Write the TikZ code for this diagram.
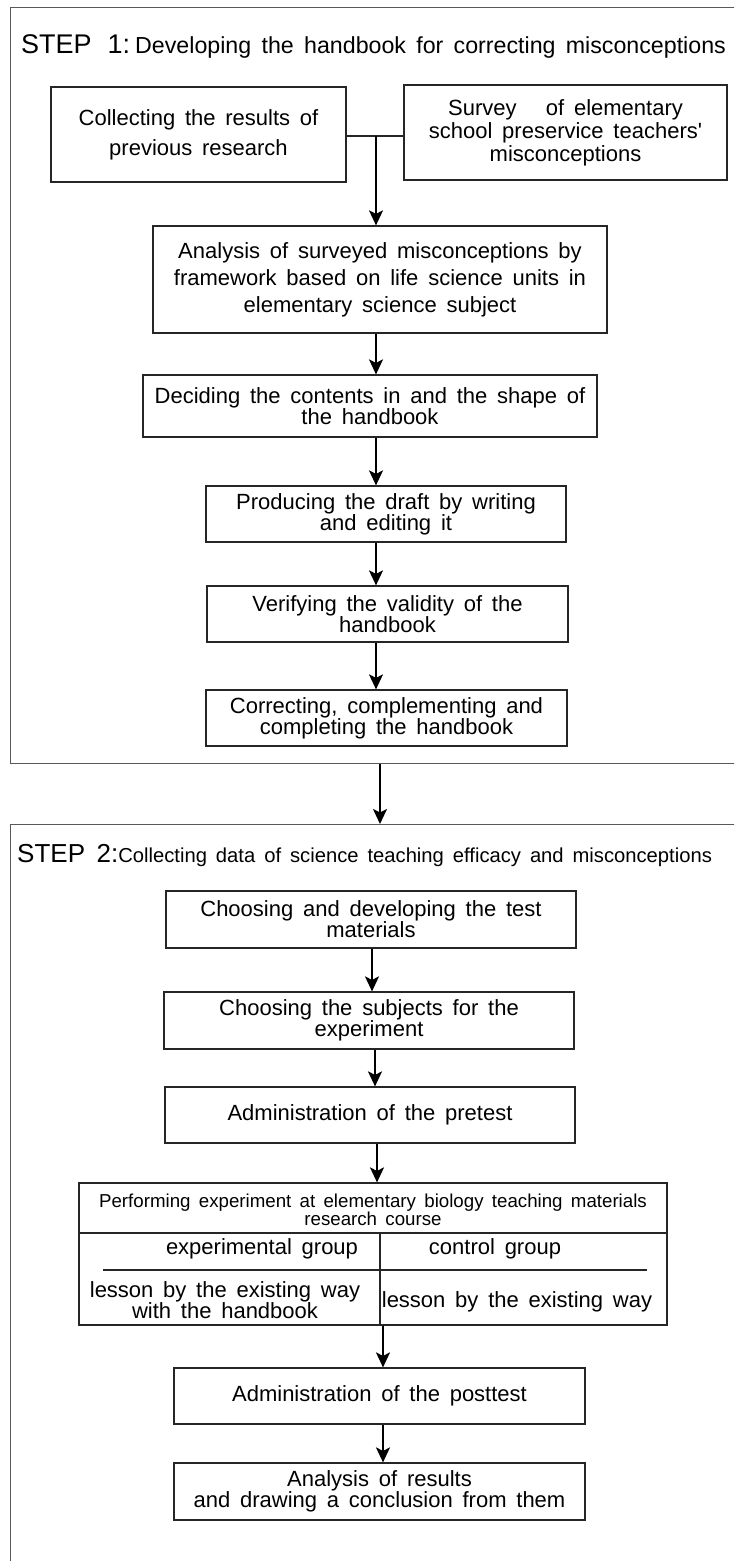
\documentclass[tikz,border=0pt]{standalone}
\usepackage{fontspec}
\setmainfont{Liberation Sans}[WordSpace=1.6]
\usetikzlibrary{arrows.meta}

\begin{document}
\begin{tikzpicture}[x=1pt,y=-1pt,
    flowbox/.style={draw=black!85, line width=1.2pt, inner sep=0pt, align=center,
      font=\fontsize{22}{21}\selectfont},
    stepframe/.style={draw=black!65, line width=1.3pt, inner sep=0pt, anchor=north west},
    flowline/.style={draw=black!85, line width=1.2pt},
    arr/.style={line width=1.8pt, -{Stealth[length=15pt,width=14pt,inset=3.5pt]}}]
      \useasboundingbox (0,0) rectangle (734,1561);
      \clip (0,0) rectangle (734,1561);
      % step 1
      \begin{scope}
        \node[stepframe, minimum width=760, minimum height=756] (step1) at (10,7) {};
        \node[anchor=base west, inner sep=0pt, font=\fontsize{23.2}{23}\selectfont] (title1) at (21,53)
          {{\fontsize{27}{27}\selectfont STEP\hspace{16pt}1:}\hspace{5pt}Developing the handbook for correcting misconceptions};
        \node[flowbox, font=\fontsize{22}{30}\selectfont, minimum width=295, minimum height=95] (collect) at (198.5,134.5)
          {Collecting the results of\\previous research};
        \node[flowbox, font=\fontsize{22}{23}\selectfont, minimum width=323, minimum height=95] (survey) at (565.5,132.5)
          {Survey\ \ \ of elementary\\school preservice teachers\textquotesingle\\misconceptions};
        \node[flowbox, font=\fontsize{22}{27}\selectfont, minimum width=454, minimum height=107] (analysis) at (380,279.5)
          {Analysis of surveyed misconceptions by\\framework based on life science units in\\elementary science subject};
        \node[flowbox, minimum width=454, minimum height=62] (deciding) at (370,406)
          {Deciding the contents in and the shape of\\the handbook};
        \node[flowbox, minimum width=360, minimum height=56] (drafting) at (386,514)
          {Producing the draft by writing\\and editing it};
        \node[flowbox, minimum width=361, minimum height=56] (verifying) at (387.5,614)
          {Verifying the validity of the\\handbook};
        \node[flowbox, minimum width=361, minimum height=56] (completing) at (386.5,718)
          {Correcting, complementing and\\completing the handbook};
        \coordinate (join) at (376,136);
        \draw[flowline] (collect.east |- join) -- (survey.west |- join);
        \draw[arr] (join) -- (analysis.north -| join);
        \draw[arr] (analysis.south -| join) -- (deciding.north -| join);
        \draw[arr] (deciding.south -| join) -- (drafting.north -| join);
        \draw[arr] (drafting.south -| join) -- (verifying.north -| join);
        \draw[arr] (verifying.south -| join) -- (completing.north -| join);
      \end{scope}
      % step 2
      \begin{scope}
        \node[stepframe, minimum width=760, minimum height=800] (step2) at (10,824) {};
        \node[anchor=base west, inner sep=0pt, font=\fontsize{20.2}{20}\selectfont] (title2) at (17,862)
          {{\fontsize{26}{26}\selectfont STEP 2:}Collecting data of science teaching efficacy and misconceptions};
        \node[flowbox, minimum width=410, minimum height=57] (materials) at (371,919.5)
          {Choosing and developing the test\\materials};
        \node[flowbox, minimum width=410, minimum height=57] (subjects) at (369,1020.5)
          {Choosing the subjects for the\\experiment};
        \node[flowbox, minimum width=410, minimum height=56] (pretest) at (370,1115)
          {Administration of the pretest};
        \node[flowbox, minimum width=588, minimum height=142] (course) at (373,1254) {};
        \node[font=\fontsize{18.7}{18}\selectfont, align=center, inner sep=0pt] (coursetxt) at (373,1210)
          {Performing experiment at elementary biology teaching materials\\research course};
        \node[font=\fontsize{22}{21}\selectfont, inner sep=0pt] (expgroup) at (262,1249) {experimental group};
        \node[font=\fontsize{22}{21}\selectfont, inner sep=0pt] (ctrlgroup) at (495,1249) {control group};
        \node[font=\fontsize{22}{21}\selectfont, align=center, inner sep=0pt] (expway) at (225,1300)
          {lesson by the existing way\\with the handbook};
        \node[font=\fontsize{22}{21}\selectfont, inner sep=0pt] (ctrlway) at (517,1302) {lesson by the existing way};
        \coordinate (hdr) at (0,1233);
        \coordinate (div) at (380,0);
        \coordinate (subl) at (103,1270);
        \coordinate (subr) at (647,1270);
        \draw[flowline] (course.west |- hdr) -- (course.east |- hdr);
        \draw[flowline] (div |- hdr) -- (course.south -| div);
        \draw[flowline] (subl) -- (subr);
        \node[flowbox, minimum width=411, minimum height=56] (posttest) at (379.5,1396)
          {Administration of the posttest};
        \node[flowbox, font=\fontsize{22}{20}\selectfont, minimum width=411, minimum height=57] (conclusion) at (379.5,1491.5)
          {Analysis of results\\and drawing a conclusion from them};
        \coordinate (s1) at (372,0);
        \coordinate (s2) at (375,0);
        \coordinate (s3) at (377,0);
        \coordinate (s4) at (383,0);
        \draw[arr] (materials.south -| s1) -- (subjects.north -| s1);
        \draw[arr] (subjects.south -| s2) -- (pretest.north -| s2);
        \draw[arr] (pretest.south -| s3) -- (course.north -| s3);
        \draw[arr] (course.south -| s4) -- (posttest.north -| s4);
        \draw[arr] (posttest.south -| s4) -- (conclusion.north -| s4);
      \end{scope}
      \coordinate (link) at (380,0);
      \draw[arr] (step1.south -| link) -- (step2.north -| link);
    \end{tikzpicture}
\end{document}
